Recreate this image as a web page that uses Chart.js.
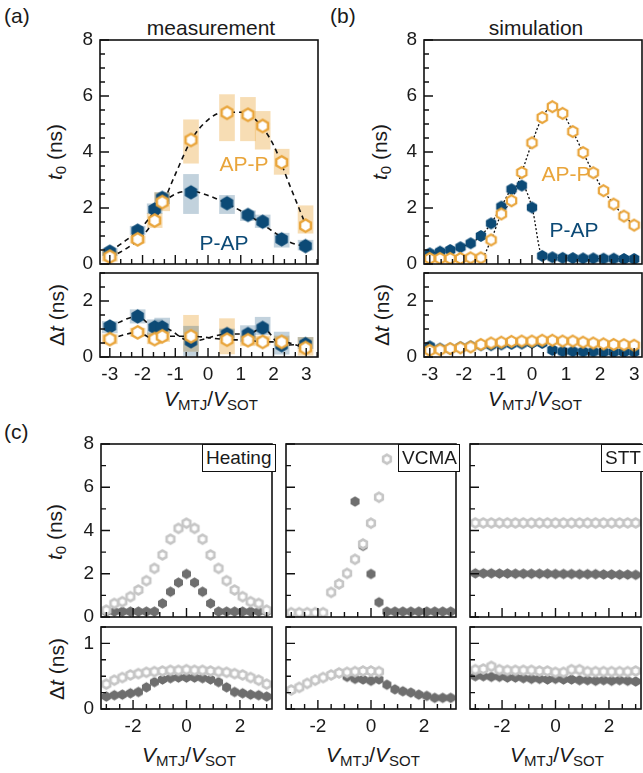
<!DOCTYPE html>
<html>
<head>
<meta charset="utf-8">
<script src="https://cdn.jsdelivr.net/npm/chart.js@4.4.1/dist/chart.umd.min.js"></script>
<style>
body { margin:0; width:643px; height:773px; overflow:hidden; background:#fff; position:relative;
       font-family:"Liberation Sans", Arial, sans-serif; color:#1a1a1a; }
canvas { position:absolute; }
.lbl { position:absolute; white-space:nowrap; line-height:1; }
.c { transform:translate(-50%,-50%); }
.r { transform:translate(-50%,-50%) rotate(-90deg); }
.ax { font-size:21px; }
.ax sub { font-size:15px; vertical-align:-4px; }
.box { position:absolute; border:1.5px solid #111; background:#fff; font-size:19px; box-sizing:border-box;
       height:28px; line-height:26px; padding:0 3px; z-index:2; }
</style>
</head>
<body>

<div class="lbl" style="left:4px;top:5px;font-size:21px">(a)</div>
<div class="lbl" style="left:330px;top:5px;font-size:21px">(b)</div>
<div class="lbl" style="left:4px;top:421px;font-size:21px">(c)</div>
<div class="lbl c" style="left:211px;top:27px;font-size:21px">measurement</div>
<div class="lbl c" style="left:536px;top:27px;font-size:21px">simulation</div>

<div class="lbl r ax" style="left:56px;top:152px"><i>t</i><sub>0</sub> (ns)</div>
<div class="lbl r ax" style="left:56px;top:315px">Δ<i>t</i> (ns)</div>
<div class="lbl r ax" style="left:381px;top:152px"><i>t</i><sub>0</sub> (ns)</div>
<div class="lbl r ax" style="left:381px;top:315px">Δ<i>t</i> (ns)</div>
<div class="lbl r ax" style="left:56px;top:532px"><i>t</i><sub>0</sub> (ns)</div>
<div class="lbl r ax" style="left:56px;top:669px">Δ<i>t</i> (ns)</div>

<div class="lbl c ax" style="left:211px;top:400px"><i>V</i><sub>MTJ</sub>/<i>V</i><sub>SOT</sub></div>
<div class="lbl c ax" style="left:535px;top:400px"><i>V</i><sub>MTJ</sub>/<i>V</i><sub>SOT</sub></div>
<div class="lbl c ax" style="left:189px;top:756px"><i>V</i><sub>MTJ</sub>/<i>V</i><sub>SOT</sub></div>
<div class="lbl c ax" style="left:373px;top:756px"><i>V</i><sub>MTJ</sub>/<i>V</i><sub>SOT</sub></div>
<div class="lbl c ax" style="left:557px;top:756px"><i>V</i><sub>MTJ</sub>/<i>V</i><sub>SOT</sub></div>

<div class="lbl c" style="left:244px;top:163px;font-size:21px;color:#e9a53b;z-index:2">AP-P</div>
<div class="lbl c" style="left:224px;top:242px;font-size:21px;color:#0c4a76;z-index:2">P-AP</div>
<div class="lbl c" style="left:566px;top:173px;font-size:21px;color:#e9a53b;z-index:2">AP-P</div>
<div class="lbl c" style="left:574px;top:229px;font-size:21px;color:#0c4a76;z-index:2">P-AP</div>

<div class="box" style="left:202px;top:444px;width:74px">Heating</div>
<div class="box" style="left:398px;top:444px;width:62px">VCMA</div>
<div class="box" style="left:601px;top:444px;width:60px">STT</div>

<script>
// ---- measurement (a) ----
const measX = [-3, -2.15, -1.63, -1.4, -0.52, 0.58, 1.22, 1.67, 2.25, 2.98];
const measPAP = [0.44, 1.19, 1.95, 2.36, 2.56, 2.17, 1.75, 1.51, 0.88, 0.64];
const measPAPlo = [0.3, 1.05, 1.8, 2.15, 1.8, 1.8, 1.55, 1.3, 0.6, 0.5];
const measPAPhi = [0.55, 1.35, 2.15, 2.55, 3.2, 2.45, 1.9, 1.75, 1.1, 0.85];
const measAPP = [0.26, 0.88, 1.55, 2.21, 4.43, 5.4, 5.33, 4.93, 3.63, 1.37];
const measAPPlo = [0.1, 0.75, 1.3, 1.9, 3.6, 4.4, 4.4, 4.1, 3.2, 1.1];
const measAPPhi = [0.45, 1.0, 1.8, 2.55, 5.15, 6.05, 5.95, 5.45, 4.1, 2.08];
const fitX = [-3, -2.5, -2, -1.5, -1, -0.5, 0, 0.5, 1, 1.5, 2, 2.5, 3];
const fitAPP = [0.22, 0.55, 1.0, 1.85, 3.2, 4.45, 5.15, 5.42, 5.42, 5.1, 4.25, 2.8, 1.35];
const fitPAP = [0.45, 0.85, 1.35, 2.05, 2.5, 2.6, 2.45, 2.2, 1.9, 1.55, 1.15, 0.78, 0.62];

const measDtPAP = [1.09, 1.45, 1.06, 1.06, 0.56, 0.82, 0.82, 1.04, 0.42, 0.46];
const measDtPAPlo = [0.86, 1.21, 0.8, 0.86, 0.05, 0.65, 0.54, 0.8, 0.1, 0.3];
const measDtPAPhi = [1.27, 1.69, 1.33, 1.39, 1.1, 1.0, 1.12, 1.42, 0.89, 0.7];
const measDtAPP = [0.64, 0.88, 0.64, 0.74, 0.74, 0.62, 0.6, 0.54, 0.54, 0.32];
const measDtAPPlo = [0.47, 0.74, 0.47, 0.55, 0.2, 0.11, 0.4, 0.45, 0.4, 0.06];
const measDtAPPhi = [0.8, 1.03, 0.86, 0.92, 1.49, 1.37, 0.75, 0.75, 0.75, 0.7];

// ---- simulation (b) ----
const simX = [-3, -2.7, -2.4, -2.1, -1.8, -1.5, -1.2, -0.9, -0.6, -0.3, 0, 0.3, 0.6, 0.9, 1.2, 1.5, 1.8, 2.1, 2.4, 2.7, 3];
const simPAP = [0.38, 0.44, 0.5, 0.6, 0.74, 1.0, 1.45, 2.05, 2.67, 2.8, 2.02, 0.29, 0.24, 0.22, 0.21, 0.2, 0.2, 0.19, 0.19, 0.18, 0.18];
const simAPP = [0.2, 0.2, 0.2, 0.2, 0.22, 0.22, 0.86, 1.79, 2.26, 3.27, 4.33, 5.23, 5.62, 5.38, 4.73, 3.98, 3.26, 2.62, 2.14, 1.71, 1.39];
const simDtPAP = [0.38, 0.3, 0.3, 0.35, 0.38, 0.42, 0.42, 0.45, 0.47, 0.48, 0.5, 0.5, 0.25, 0.2, 0.2, 0.19, 0.19, 0.18, 0.18, 0.18, 0.18];
const simDtAPP = [0.24, 0.26, 0.3, 0.33, 0.36, 0.45, 0.5, 0.53, 0.56, 0.57, 0.57, 0.6, 0.6, 0.57, 0.57, 0.53, 0.5, 0.47, 0.45, 0.44, 0.42];

// ---- mechanisms (c) ----
const cX = simX;
const heatAPP = [0.32, 0.63, 0.71, 0.94, 1.25, 1.68, 2.25, 2.87, 3.6, 4.1, 4.34, 4.1, 3.6, 2.87, 2.25, 1.68, 1.25, 0.94, 0.71, 0.63, 0.32];
const heatPAP = [0.25, 0.25, 0.25, 0.25, 0.25, 0.25, 0.25, 0.63, 1.17, 1.59, 1.99, 1.59, 1.17, 0.63, 0.25, 0.25, 0.25, 0.25, 0.25, 0.25, 0.25];
const heatDtAPP = [0.38, 0.44, 0.48, 0.52, 0.54, 0.56, 0.57, 0.58, 0.59, 0.59, 0.6, 0.59, 0.59, 0.58, 0.57, 0.56, 0.54, 0.52, 0.48, 0.44, 0.38];
const heatDtPAP = [0.19, 0.21, 0.22, 0.24, 0.26, 0.33, 0.41, 0.45, 0.47, 0.48, 0.48, 0.48, 0.47, 0.45, 0.41, 0.33, 0.26, 0.24, 0.22, 0.21, 0.19];
const vcmaAPP = [0.2, 0.2, 0.2, 0.2, 0.2, 1.14, 1.53, 2.02, 2.67, 3.38, 4.34, 5.54, 7.3, null, null, null, null, null, null, null, null];
const vcmaPAP = [null, null, null, null, null, null, null, null, 5.34, 3.29, 1.99, 0.68, 0.25, 0.25, 0.25, 0.25, 0.25, 0.25, 0.25, 0.25, 0.25];
const vcmaDtAPP = [0.29, 0.33, 0.39, 0.44, 0.48, 0.52, 0.55, 0.56, 0.57, 0.58, 0.58, 0.57, null, null, null, null, null, null, null, null, null];
const vcmaDtPAP = [null, null, null, null, null, null, null, 0.49, 0.46, 0.45, 0.43, 0.45, 0.37, 0.3, 0.27, 0.25, 0.22, 0.2, 0.17, 0.17, 0.17];
const sttAPP = [4.35, 4.35, 4.35, 4.35, 4.35, 4.35, 4.35, 4.35, 4.35, 4.35, 4.35, 4.35, 4.35, 4.35, 4.35, 4.35, 4.35, 4.35, 4.35, 4.35, 4.35];
const sttPAP = [2.02, 2.02, 2.02, 2.01, 2.01, 2.0, 2.0, 2.0, 2.0, 2.0, 1.99, 1.99, 1.99, 1.98, 1.98, 1.98, 1.97, 1.97, 1.96, 1.96, 1.95];
const sttDtAPP = [0.6, 0.61, 0.65, 0.6, 0.59, 0.59, 0.59, 0.59, 0.58, 0.58, 0.56, 0.56, 0.6, 0.6, 0.57, 0.57, 0.57, 0.57, 0.57, 0.57, 0.58];
const sttDtPAP = [0.5, 0.5, 0.49, 0.49, 0.48, 0.48, 0.47, 0.46, 0.46, 0.45, 0.46, 0.45, 0.45, 0.44, 0.44, 0.43, 0.44, 0.43, 0.44, 0.43, 0.42];

// tick values
const abXmajor = [-3, -2, -1, 0, 1, 2, 3];
const t0Major = [0, 2, 4, 6, 8];
const abDtMajor = [0, 2];
const cXmajor = [-2, 0, 2];
const cDtMajor = [0, 1];

const BLUE = '#0c4a76', ORANGE = '#e9a53b', LIGHT = '#c6c6c6', DARK = '#6e6e6e';

function steps(a, b, s) {
  const out = [];
  for (let i = 0; a + i * s <= b + 1e-9; i++) out.push(+(a + i * s).toFixed(4));
  return out;
}

function hex(r, fill, stroke, lw) {
  lw = lw || 0;
  const s = Math.ceil(2 * r + lw + 2);
  const c = document.createElement('canvas');
  c.width = c.height = s;
  const g = c.getContext('2d');
  g.beginPath();
  for (let i = 0; i < 6; i++) {
    const a = -Math.PI / 2 + i * Math.PI / 3;
    const x = s / 2 + r * Math.cos(a), y = s / 2 + r * Math.sin(a);
    i ? g.lineTo(x, y) : g.moveTo(x, y);
  }
  g.closePath();
  g.fillStyle = fill; g.fill();
  if (stroke) { g.strokeStyle = stroke; g.lineWidth = lw; g.stroke(); }
  return c;
}

const hexBlueA = hex(7.2, BLUE), hexOrangeA = hex(6.2, '#fff', ORANGE, 2.4);
const hexBlueB = hex(6, BLUE), hexOrangeB = hex(5.4, '#fff', ORANGE, 2.2);
const hexDark = hex(5.2, DARK), hexLight = hex(4.4, '#fff', LIGHT, 2.6);

const pts = (xs, ys) => xs.map((x, i) => ({ x: x, y: ys[i] }));
const bars = (xs, lo, hi) => xs.map((x, i) => ({ x: x, y: [lo[i], hi[i]] }));

// frame and inward tick marks
const framePlugin = {
  id: 'frame',
  afterDatasetsDraw(chart, args, o) {
    const { ctx, chartArea: a, scales } = chart;
    ctx.save();
    ctx.strokeStyle = '#111';
    ctx.lineWidth = 1.4;
    ctx.beginPath();
    o.xTicks.forEach(v => {
      const p = scales.x.getPixelForValue(v);
      const len = o.xMajor.some(m => Math.abs(m - v) < 1e-6) ? 9 : 5;
      ctx.moveTo(p, a.bottom); ctx.lineTo(p, a.bottom - len);
    });
    o.yTicks.forEach(v => {
      const p = scales.y.getPixelForValue(v);
      const len = o.yMajor.some(m => Math.abs(m - v) < 1e-6) ? 9 : 5;
      ctx.moveTo(a.left, p); ctx.lineTo(a.left + len, p);
    });
    ctx.stroke();
    ctx.lineWidth = 1.6;
    ctx.strokeRect(a.left, a.top, a.right - a.left, a.bottom - a.top);
    ctx.restore();
  }
};

function plot(box, xr, yr, xt, yt, showX, showY, datasets) {
  const yW = 40, xH = showX ? 30 : 0, P = 12;
  const cv = document.createElement('canvas');
  const w = yW + (box.r - box.l) + 3, h = P + (box.b - box.t) + (showX ? xH : P);
  cv.width = w; cv.height = h;
  cv.style.left = (box.l - yW) + 'px';
  cv.style.top = (box.t - P) + 'px';
  document.body.appendChild(cv);
  new Chart(cv, {
    type: 'line',
    data: { datasets: datasets },
    plugins: [framePlugin],
    options: {
      responsive: false,
      animation: false,
      events: [],
      layout: { padding: { left: 0, right: 3, top: P, bottom: showX ? 0 : P } },
      plugins: {
        legend: { display: false },
        tooltip: { enabled: false },
        frame: { xTicks: xt.all, xMajor: xt.major, yTicks: yt.all, yMajor: yt.major }
      },
      scales: {
        x: {
          type: 'linear', min: xr[0], max: xr[1], offset: false,
          grid: { display: false, drawTicks: false }, border: { display: false },
          afterBuildTicks: s => { s.ticks = xt.major.map(v => ({ value: v })); },
          afterFit: s => { s.height = xH; s.paddingLeft = 0; s.paddingRight = 0; },
          ticks: { display: showX, padding: 6, color: '#1a1a1a', maxRotation: 0, autoSkip: false,
                   font: { family: 'Liberation Sans', size: 19 }, callback: v => String(v) }
        },
        y: {
          type: 'linear', min: yr[0], max: yr[1],
          grid: { display: false, drawTicks: false }, border: { display: false },
          afterBuildTicks: s => { s.ticks = yt.major.map(v => ({ value: v })); },
          afterFit: s => { s.width = yW; s.paddingTop = 0; s.paddingBottom = 0; },
          ticks: { display: showY, padding: 7, color: '#1a1a1a', autoSkip: false,
                   font: { family: 'Liberation Sans', size: 19 }, callback: v => String(v) }
        }
      }
    }
  });
}

function rect(data, color) {
  return { type: 'bar', data: data, backgroundColor: color, barThickness: 15, grouped: false, order: 5 };
}
function line(data, dash, width, tension) {
  return { type: 'line', data: data, borderColor: '#111', borderWidth: width, borderDash: dash,
           pointRadius: 0, tension: tension, cubicInterpolationMode: 'monotone', fill: false, order: 3 };
}
function marks(data, img, order) {
  return { type: 'line', data: data, showLine: false, pointStyle: img, pointRadius: 6, order: order };
}

const abX = { major: abXmajor, all: steps(-3, 3.34, 1 / 3) };
const t0Y = { major: t0Major, all: steps(0, 8, 0.5) };
const abDtY = { major: abDtMajor, all: steps(0, 3, 0.5) };
const cXt = { major: cXmajor, all: steps(-3, 3, 0.5) };
const cT0Y = { major: t0Major, all: steps(0, 8, 1) };
const cDtY = { major: cDtMajor, all: steps(0, 1.25, 0.25) };

const RB = 'rgba(12,74,118,0.25)', RO = 'rgba(233,165,59,0.38)';

// (a) measurement
plot({ l: 100, t: 40, r: 322, b: 264 }, [-3.3, 3.36], [0, 8], abX, t0Y, false, true, [
  rect(bars(measX, measPAPlo, measPAPhi), RB),
  rect(bars(measX, measAPPlo, measAPPhi), RO),
  line(pts(fitX, fitPAP), [5, 4], 1.6, 0.4),
  line(pts(fitX, fitAPP), [5, 4], 1.6, 0.4),
  marks(pts(measX, measPAP), hexBlueA, 2),
  marks(pts(measX, measAPP), hexOrangeA, 1)
]);
plot({ l: 100, t: 273, r: 322, b: 357 }, [-3.3, 3.36], [0, 3], abX, abDtY, true, true, [
  rect(bars(measX, measDtPAPlo, measDtPAPhi), RB),
  rect(bars(measX, measDtAPPlo, measDtAPPhi), RO),
  line(pts(measX, measDtPAP), [5, 4], 1.6, 0.3),
  line(pts(measX, measDtAPP), [5, 4], 1.6, 0.3),
  marks(pts(measX, measDtPAP), hexBlueA, 2),
  marks(pts(measX, measDtAPP), hexOrangeA, 1)
]);

// (b) simulation
plot({ l: 424, t: 40, r: 646, b: 264 }, [-3.17, 3.23], [0, 8], abX, t0Y, false, true, [
  line(pts(simX, simPAP), [2, 2], 1.3, 0),
  line(pts(simX, simAPP), [2, 2], 1.3, 0),
  marks(pts(simX, simPAP), hexBlueB, 2),
  marks(pts(simX, simAPP), hexOrangeB, 1)
]);
plot({ l: 424, t: 273, r: 646, b: 357 }, [-3.17, 3.23], [0, 3], abX, abDtY, true, true, [
  marks(pts(simX, simDtPAP), hexBlueB, 2),
  marks(pts(simX, simDtAPP), hexOrangeB, 1)
]);

// (c) Heating, VCMA, STT
const cCols = [
  { l: 101, r: 276, t0: [heatPAP, heatAPP], dt: [heatDtPAP, heatDtAPP] },
  { l: 286, r: 460, t0: [vcmaPAP, vcmaAPP], dt: [vcmaDtPAP, vcmaDtAPP] },
  { l: 470, r: 645, t0: [sttPAP, sttAPP], dt: [sttDtPAP, sttDtAPP] }
];
cCols.forEach((c, i) => {
  const xr = [-3.2, 3.2];
  plot({ l: c.l, t: 444, r: c.r, b: 617 }, xr, [0, 8], cXt, cT0Y, false, i === 0, [
    marks(pts(cX, c.t0[0]), hexDark, 2),
    marks(pts(cX, c.t0[1]), hexLight, 1)
  ]);
  plot({ l: c.l, t: 627, r: c.r, b: 709 }, xr, [0, 1.25], cXt, cDtY, true, i === 0, [
    marks(pts(cX, c.dt[0]), hexDark, 2),
    marks(pts(cX, c.dt[1]), hexLight, 1)
  ]);
});
</script>
</body>
</html>
